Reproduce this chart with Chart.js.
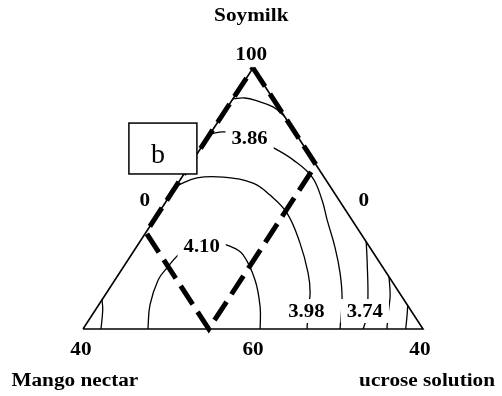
<!DOCTYPE html>
<html>
<head>
<meta charset="utf-8">
<script src="https://cdn.jsdelivr.net/npm/chart.js@4.4.1/dist/chart.umd.min.js"></script>
<style>
  html, body { margin: 0; padding: 0; background: #fff; }
  #wrap { width: 502px; height: 396px; position: relative; }
</style>
</head>
<body>
<div id="wrap"><canvas id="chart"></canvas></div>
<script>
// Ternary plane: x runs 0..100 along the base (Mango nectar -> Sucrose solution),
// y runs 0..100 from the base up to the Soymilk apex.
const triangle = [[0,0],[50,100],[100,0],[0,0]];
const design = [[50,100],[68.5,63],[37,0],[18.5,37],[50,100]];

// contour lines of the response surface
const contourTop = [[44.1,88.2],[47.6,88.5],[51.2,87.4],[55.9,85.1],[59.2,81.6]];
const contour386 = [[37.4,74.7],[41.5,75.5],[48.8,73.9],[55.6,69.7],[61.8,64.8],[67.4,58.2],[70.3,49.4],[71.8,41.8],[74.1,31.4],[75.6,21.5],[76.2,11.9],[75.6,0]];
const contour398 = [[27.4,54.8],[33.5,57.9],[41.2,58.2],[50,55.9],[55,51.3],[60,44.4],[63.8,33],[66.2,21.5],[66.8,13.8],[66.2,7.3],[65.9,0]];
const contour410 = [[19.1,0],[19.7,9.2],[22.1,18.8],[24.7,23.4],[29.1,29.5],[35.9,33.5],[43.8,31.4],[47.1,28.4],[50.6,18.8],[52.1,8.4],[52.1,0]];
const contour374 = [[83.3,33.4],[83.6,25],[83.8,11.9],[83.3,4],[82.4,0]];
const contourCorner = [[5.6,11.2],[5.8,7.3],[5.3,0]];
const contourR1 = [[90.0,20],[90.3,14.9],[90.3,11.9],[89.7,5.4],[89.4,0]];
const contourR2 = [[95.5,9],[95.3,5],[94.9,0]];

const contourLines = [contourTop, contour386, contour398, contour410, contour374, contourCorner, contourR1, contourR2];

// contour level labels and where they sit
const levelLabels = ['3.86', '4.10', '3.98', '3.74'];
const levelAnchors = [[49,73], [34.9,31.8], [65.7,6.9], [82.9,6.9]];

// vertex / axis texts
const axisLabels = ['Soymilk', '100', '0', '0', '40', '60', '40', 'Mango nectar', 'ucrose solution'];
const axisAnchors = [[49.5,118], [49.5,103.1], [18.2,47.1], [82.6,47.1], [-0.6,-10], [50,-10], [99.1,-10], [-2.4,-21.8], [101.2,-21.8]];

// panel tag
const panelTag = 'b';
const panelBox = [13.5, 78.9, 33.5, 59.4];

const pts = a => a.map(p => ({x: p[0], y: p[1]}));

const datasets = [];
contourLines.forEach(c => datasets.push({
  data: pts(c), showLine: true, borderColor: '#000', borderWidth: 1.3,
  pointRadius: 0, tension: 0.4, clip: false, fill: false
}));
datasets.push({
  data: pts(triangle), showLine: true, borderColor: '#000', borderWidth: 1.6,
  pointRadius: 0, tension: 0, clip: false, fill: false
});
datasets.push({
  data: pts(design), showLine: true, borderColor: '#000', borderWidth: 5,
  borderDash: [22, 9], borderCapStyle: 'butt', borderJoinStyle: 'miter',
  pointRadius: 0, tension: 0, clip: false, fill: false
});

function drawText(ctx, str, px, py, font, sx) {
  ctx.save();
  ctx.translate(px, py);
  ctx.scale(sx, 1);
  ctx.font = font;
  ctx.textAlign = 'center';
  ctx.textBaseline = 'alphabetic';
  ctx.fillStyle = '#000';
  ctx.fillText(str, 0, 0);
  ctx.restore();
}

const ternaryText = {
  id: 'ternaryText',
  afterDatasetsDraw(chart) {
    const ctx = chart.ctx;
    const xs = chart.scales.x, ys = chart.scales.y;
    const boldFont = 'bold 18px "Liberation Serif", "Times New Roman", serif';

    // level labels knock out the contour underneath
    levelLabels.forEach((t, i) => {
      const px = xs.getPixelForValue(levelAnchors[i][0]);
      const py = ys.getPixelForValue(levelAnchors[i][1]);
      ctx.save();
      ctx.font = boldFont;
      const w = ctx.measureText(t).width * 1.15 + 12;
      ctx.fillStyle = '#fff';
      ctx.fillRect(px - w / 2, py - 12, w, 24);
      ctx.restore();
      drawText(ctx, t, px, py + 6, boldFont, 1.15);
    });

    axisLabels.forEach((t, i) => {
      const px = xs.getPixelForValue(axisAnchors[i][0]);
      const py = ys.getPixelForValue(axisAnchors[i][1]);
      drawText(ctx, t, px, py, boldFont, 1.18);
    });

    // boxed panel letter
    const bx1 = xs.getPixelForValue(panelBox[0]), by1 = ys.getPixelForValue(panelBox[1]);
    const bx2 = xs.getPixelForValue(panelBox[2]), by2 = ys.getPixelForValue(panelBox[3]);
    ctx.save();
    ctx.fillStyle = '#fff';
    ctx.fillRect(bx1, by1, bx2 - bx1, by2 - by1);
    ctx.strokeStyle = '#000';
    ctx.lineWidth = 1.5;
    ctx.strokeRect(bx1, by1, bx2 - bx1, by2 - by1);
    ctx.restore();
    drawText(ctx, panelTag, (bx1 + bx2) / 2 - 5, by2 - 11, '28px "Liberation Serif", "Times New Roman", serif', 1);
  }
};

new Chart(document.getElementById('chart'), {
  type: 'scatter',
  data: { datasets },
  options: {
    responsive: true,
    maintainAspectRatio: false,
    animation: false,
    layout: { padding: { left: 83, right: 79, top: 68, bottom: 67 } },
    scales: {
      x: { type: 'linear', min: 0, max: 100, display: false },
      y: { type: 'linear', min: 0, max: 100, display: false }
    },
    plugins: { legend: { display: false }, tooltip: { enabled: false } }
  },
  plugins: [ternaryText]
});
</script>
</body>
</html>
